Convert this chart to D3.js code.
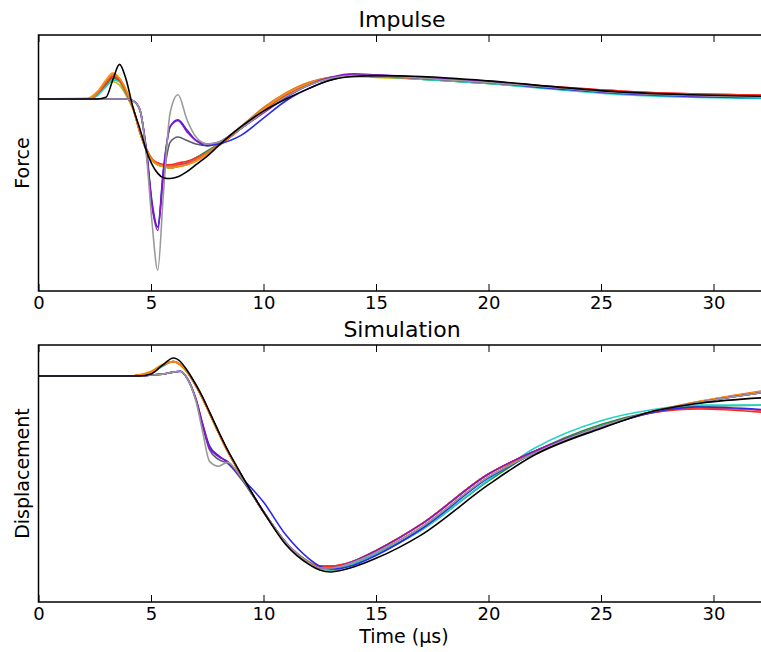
<!DOCTYPE html>
<html>
<head>
<meta charset="utf-8">
<script src="https://cdn.jsdelivr.net/npm/d3@7"></script>
<style>
  body { margin: 0; background: #fff; overflow: hidden; }
  text { font-family: 'DejaVu Sans', sans-serif; fill: #000; }
</style>
</head>
<body>
<div class="svg-container"></div>
<script>
// time samples (µs) for each panel
const impulseTime = [0, 2.2, 2.6, 3.0, 3.3, 3.6, 3.9, 4.2, 4.5, 4.8, 5.05, 5.3, 5.55, 5.85, 6.2, 6.6, 7.0, 7.5, 8, 9, 10, 11, 12, 13, 14, 15, 17, 20, 23, 26, 29, 32.5];
const simTime = [0, 4, 4.5, 5, 5.5, 6, 6.3, 6.6, 7, 7.3, 7.6, 8, 8.4, 9, 10, 11, 12, 12.5, 13, 14, 15, 17, 20, 22, 25, 27.2, 29.4, 32.5];

const seriesNames = ['gold', 'green', 'turquoise', 'crimson', 'red', 'peru', 'orange', 'slate', 'blue', 'purple', 'grey', 'black'];
const seriesColors = ['#d6b400', '#1f8a3c', '#22d3c5', '#e8336e', '#ff2a1a', '#d9753f', '#ff8c00', '#5e5870', '#2a2ae8', '#8a12c8', '#999999', '#000000'];

// force (arbitrary units), one row per series
const impulseGold      = [0, 0.5, 4, 8, 10, 8, 2, -6, -18, -29, -34.5, -37, -38, -38.5, -38, -37, -35, -31, -26, -16, -5, 3.5, 9.5, 12, 13, 12.5, 11.5, 9, 6, 3.5, 2, 1];
const impulseGreen     = [0, 0, 2, 8, 12, 10, 3, -5, -19, -30, -35.5, -38, -39, -40, -39, -37, -34, -30, -26, -16, -5.5, 3, 9, 12.5, 13.5, 13, 11.5, 9, 6, 3, 1.5, 0.6];
const impulseTurquoise = [0, 0, 2, 7, 11, 10, 3, -5, -19, -30, -35.5, -38, -39, -40, -39, -37, -34, -31, -27, -17, -6, 2.5, 9, 12.5, 13.5, 13, 11.5, 9, 5.5, 2.5, 1, 0.3];
const impulseCrimson   = [0, 0, 3, 9, 13, 11, 4, -5, -19, -29, -35, -37, -38, -39, -38, -37, -35, -31, -27, -17, -6.5, 2.5, 8.5, 12, 13.5, 13, 12, 10, 7, 4.5, 3, 2.3];
const impulseRed       = [0, 0, 3, 9, 13, 11, 4, -5, -19, -29, -35, -37, -38, -38, -37, -36, -34, -31, -27, -17, -7, 2, 8.5, 12, 13.5, 13, 12, 10, 7, 4.5, 3, 2.3];
const impulsePeru      = [0, 0, 3, 10, 14, 12, 5, -5, -18, -29, -35, -37.5, -38.5, -39, -39, -38, -35, -31, -26, -16, -5, 3.5, 9.5, 12.5, 13.5, 13, 12, 9.5, 6.5, 3.5, 2.5, 1.6];
const impulseOrange    = [0, 0, 4, 11, 15, 12, 5, -5, -19, -30, -35.5, -38, -39, -40, -39, -38, -36, -32, -27, -17, -6, 3, 9, 12, 13, 13, 12, 9.5, 6.5, 3.5, 2.2, 1.2];
const impulseSlate     = [0, 0, 0, 0, 0, 0, 0, -1, -6, -31, -62, -74, -46, -25, -22, -24, -26, -27, -25, -17, -7.5, 1.5, 8, 12, 13.5, 13.5, 12, 9.5, 6.5, 3.5, 2, 1];
const impulseBlue      = [0, 0, 0, 0, 0, 0, 0, -1, -6, -30, -60, -74, -41, -16, -12, -18, -24, -27, -26, -21, -11, -1, 6, 11, 13.5, 13.5, 12, 9.5, 6, 3, 1.5, 0.8];
const impulsePurple    = [0, 0, 0, 0, 0, 0, 0, -1, -6, -31, -62, -76, -42, -16, -12.5, -19, -24, -26, -25, -17, -8, 1, 8, 12.5, 14.5, 14, 12.5, 10, 6.5, 3.5, 2, 1];
const impulseGrey      = [0, 0, 0, 0, 0, 0, 0, -1, -6, -33, -72, -99, -55, -8, 2.5, -12, -22, -26, -25, -17, -7.5, 1.5, 8, 12, 13.5, 13.5, 12, 9.5, 6.5, 3.5, 2, 1];
const impulseBlack     = [0, 0, 0, 1, 11, 20, 11, -5, -17, -30, -38, -43, -45.5, -46, -45, -42, -38, -33, -27, -16, -7, 0, 6, 11, 13, 13.5, 13, 10.5, 7, 4, 2.5, 1.5];

// displacement (arbitrary units), one row per series
const simGold      = [0, 0, 0.8, 2.5, 6, 7.5, 5.5, 2, -5.5, -12, -19.5, -29.5, -39, -51, -70, -86, -95.5, -98, -98.5, -95.5, -90, -76.5, -50.5, -39, -26, -18.5, -13.5, -8];
const simGreen     = [0, 0, 0.3, 1.5, 5, 7.5, 6, 2.5, -5, -11.5, -19, -29, -38.5, -51, -70, -86, -96, -99, -100, -97, -92, -79.5, -54, -39.5, -25, -18.5, -15.5, -15];
const simTurquoise = [0, 0, 0.3, 1.5, 5, 7.5, 6, 2.5, -5, -11.5, -19, -29, -38.5, -51, -70, -86, -96, -99, -100, -97, -92, -79.5, -53.5, -37.5, -23, -17.5, -15, -15];
const simCrimson   = [0, 0, 0.5, 2, 5.5, 7.5, 6, 2.5, -5, -11.5, -19, -29, -38.5, -51, -70, -86, -96, -98, -98, -95.5, -90, -76.5, -50.5, -39, -26.5, -19, -16.5, -18];
const simRed       = [0, 0, 0.5, 2, 5.5, 7.5, 6, 2.5, -5, -11.5, -19, -29, -38.5, -51, -70, -86, -96, -98, -98, -95.5, -90, -76.5, -50.5, -39, -26.5, -19, -17, -19];
const simPeru      = [0, 0, 0.5, 2, 5.5, 7.5, 6, 2.5, -5, -11.5, -19, -29, -38.5, -51, -70, -86, -96, -98.5, -99, -95.5, -90, -76.5, -50.5, -39.5, -26, -18.5, -13, -7];
const simOrange    = [0, 0, 0.5, 2, 5.5, 7.5, 6, 2.5, -5, -11.5, -19, -29, -38.5, -51, -70, -86, -96, -99, -99.5, -95.5, -90, -76.5, -50.5, -39.5, -26, -18.5, -13, -7.5];
const simSlate     = [0, 0, 0, 0.5, 1, 2, 2.5, -1, -12.5, -26, -38, -43, -45, -53, -70, -86, -96, -99, -99, -96, -91, -78, -52, -40, -26, -18.5, -13.5, -8];
const simBlue      = [0, 0, 0, 0.5, 1, 2, 2.5, -1, -12, -25, -36, -41, -44.5, -52, -65, -82, -94, -98, -99.5, -97.5, -92.5, -79, -52.5, -40, -26.5, -19, -16, -17.5];
const simPurple    = [0, 0, 0, 0.5, 1, 2, 2.5, -1, -12, -25, -37, -41.5, -44, -52, -70, -86, -96, -99, -99, -95.5, -90, -76.5, -50.5, -39, -26, -18.5, -13.5, -8];
const simGrey      = [0, 0, 0, 0.5, 1, 2, 2.5, -1, -13, -29, -44, -46.5, -44.5, -52, -70, -86, -96, -99, -99, -96, -91, -78, -52, -40, -26, -18.5, -13.5, -8];
const simBlack     = [0, 0, 0, 1, 5.5, 9.3, 7.5, 3, -4.5, -11, -18.5, -28.5, -38, -50.5, -70, -87, -97, -100, -101, -98.5, -94, -82, -56, -41, -27, -18.5, -14, -11];

const impulseRows = [impulseGold, impulseGreen, impulseTurquoise, impulseCrimson, impulseRed, impulsePeru, impulseOrange, impulseSlate, impulseBlue, impulsePurple, impulseGrey, impulseBlack];
const simRows = [simGold, simGreen, simTurquoise, simCrimson, simRed, simPeru, simOrange, simSlate, simBlue, simPurple, simGrey, simBlack];

const xTicks = [0, 5, 10, 15, 20, 25, 30];

const width = 761;
const height = 652;

const svg = d3.select('.svg-container')
  .append('svg')
  .attr('width', width)
  .attr('height', height);

// the axes run past the right edge of the window, as in the source figure
const x = d3.scaleLinear().domain([0, 32.4]).range([38.5, 767.5]);

const renderPanel = (opts) => {
  const { top, bottom, yDomain, time, rows, title, ylabel, id } = opts;
  const y = d3.scaleLinear().domain(yDomain).range([bottom, top]);

  svg.append('clipPath')
    .attr('id', id)
    .append('rect')
    .attr('x', x.range()[0])
    .attr('y', top)
    .attr('width', x.range()[1] - x.range()[0])
    .attr('height', bottom - top);

  const line = d3.line()
    .x(d => x(d[0]))
    .y(d => y(d[1]))
    .curve(d3.curveMonotoneX);

  svg.append('g')
    .attr('clip-path', `url(#${id})`)
    .selectAll('path')
    .data(rows)
    .enter()
    .append('path')
    .attr('fill', 'none')
    .attr('stroke', (d, i) => seriesColors[i])
    .attr('stroke-width', 1.6)
    .attr('stroke-linejoin', 'round')
    .attr('d', d => line(d.map((v, j) => [time[j], v])));

  // frame
  svg.append('rect')
    .attr('x', x.range()[0])
    .attr('y', top)
    .attr('width', x.range()[1] - x.range()[0])
    .attr('height', bottom - top)
    .attr('fill', 'none')
    .attr('stroke', '#000')
    .attr('stroke-width', 1.5);

  // inward ticks on top and bottom spines
  const bottomAxis = svg.append('g')
    .attr('transform', `translate(0,${bottom})`)
    .call(d3.axisBottom(x).tickValues(xTicks).tickSizeInner(-7).tickSizeOuter(0).tickPadding(5));
  bottomAxis.select('.domain').remove();
  bottomAxis.selectAll('.tick line').attr('stroke', '#000').attr('stroke-width', 1);
  bottomAxis.selectAll('.tick text')
    .attr('font-size', 18)
    .attr('font-family', 'DejaVu Sans')
    .attr('fill', '#000');

  const topAxis = svg.append('g')
    .attr('transform', `translate(0,${top})`)
    .call(d3.axisTop(x).tickValues(xTicks).tickSizeInner(-7).tickSizeOuter(0).tickFormat(''));
  topAxis.select('.domain').remove();
  topAxis.selectAll('.tick line').attr('stroke', '#000').attr('stroke-width', 1);

  svg.append('text')
    .attr('x', 402)
    .attr('y', top - 8)
    .attr('text-anchor', 'middle')
    .attr('font-size', 22)
    .text(title);

  svg.append('text')
    .attr('transform', `translate(29,${(top + bottom) / 2}) rotate(-90)`)
    .attr('text-anchor', 'middle')
    .attr('font-size', 19)
    .text(ylabel);
};

renderPanel({ id: 'clip-impulse', top: 35, bottom: 291, yDomain: [-111, 37], time: impulseTime, rows: impulseRows, title: 'Impulse', ylabel: 'Force' });
renderPanel({ id: 'clip-sim', top: 345, bottom: 602, yDomain: [-116.5, 16], time: simTime, rows: simRows, title: 'Simulation', ylabel: 'Displacement' });

svg.append('text')
  .attr('x', 404)
  .attr('y', 643)
  .attr('text-anchor', 'middle')
  .attr('font-size', 19)
  .text('Time (µs)');
</script>
</body>
</html>
